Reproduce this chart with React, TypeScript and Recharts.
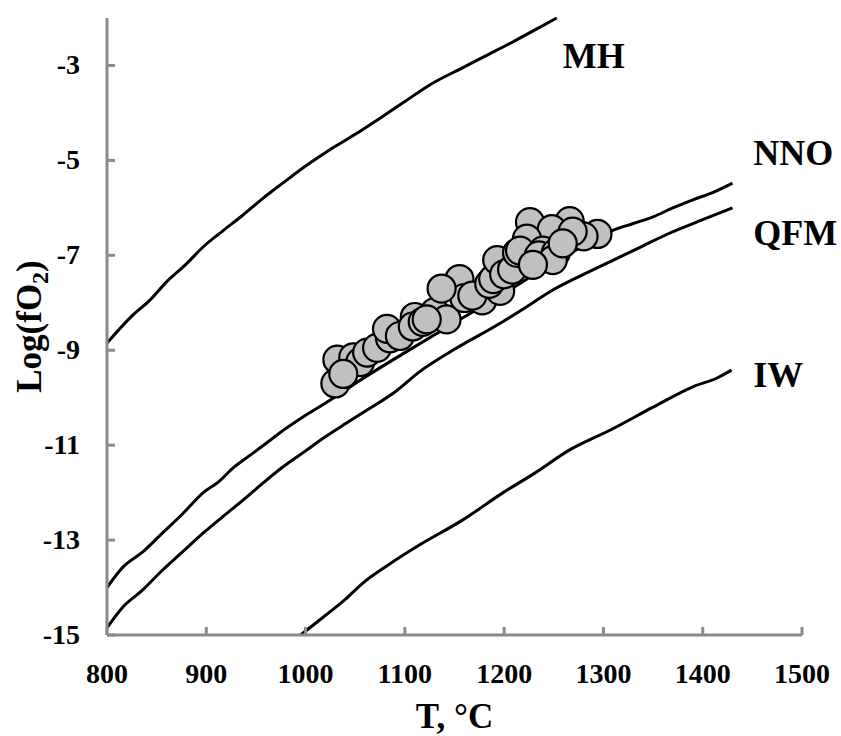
import React from 'react';
import {
  ComposedChart,
  XAxis,
  YAxis,
  Line,
  Scatter,
  ReferenceDot,
} from 'recharts';

// Oxygen buffer curves: temperature (°C) vs log fO2
const mhCurve = [
  { t: 800, v: -8.85 }, { t: 826, v: -8.26 }, { t: 843, v: -7.95 }, { t: 860, v: -7.56 },
  { t: 880, v: -7.18 }, { t: 897, v: -6.82 }, { t: 917, v: -6.48 }, { t: 937, v: -6.15 },
  { t: 957, v: -5.8 }, { t: 977, v: -5.48 }, { t: 1000, v: -5.12 }, { t: 1024, v: -4.78 },
  { t: 1050, v: -4.45 }, { t: 1075, v: -4.11 }, { t: 1100, v: -3.76 }, { t: 1125, v: -3.41 },
  { t: 1158, v: -3.05 }, { t: 1185, v: -2.76 }, { t: 1209, v: -2.5 }, { t: 1232, v: -2.24 },
  { t: 1253, v: -2.0 },
];

const nnoCurve = [
  { t: 800, v: -14.0 }, { t: 816, v: -13.57 }, { t: 836, v: -13.25 }, { t: 856, v: -12.85 },
  { t: 876, v: -12.45 }, { t: 897, v: -12.0 }, { t: 912, v: -11.78 }, { t: 927, v: -11.48 },
  { t: 945, v: -11.2 }, { t: 961, v: -10.95 }, { t: 980, v: -10.65 }, { t: 997, v: -10.41 },
  { t: 1025, v: -10.05 }, { t: 1050, v: -9.7 }, { t: 1100, v: -9.05 }, { t: 1150, v: -8.42 },
  { t: 1200, v: -7.8 }, { t: 1250, v: -7.15 }, { t: 1280, v: -6.8 }, { t: 1310, v: -6.47 },
  { t: 1330, v: -6.33 }, { t: 1350, v: -6.19 }, { t: 1370, v: -6.0 }, { t: 1390, v: -5.83 },
  { t: 1410, v: -5.68 }, { t: 1430, v: -5.48 },
];

const qfmCurve = [
  { t: 800, v: -14.85 }, { t: 816, v: -14.41 }, { t: 836, v: -14.05 }, { t: 856, v: -13.63 },
  { t: 876, v: -13.25 }, { t: 897, v: -12.85 }, { t: 917, v: -12.5 }, { t: 937, v: -12.16 },
  { t: 957, v: -11.8 }, { t: 977, v: -11.46 }, { t: 1000, v: -11.12 }, { t: 1018, v: -10.85 },
  { t: 1040, v: -10.55 }, { t: 1062, v: -10.26 }, { t: 1090, v: -9.88 }, { t: 1115, v: -9.45 },
  { t: 1150, v: -8.98 }, { t: 1193, v: -8.47 }, { t: 1220, v: -8.12 }, { t: 1249, v: -7.73 },
  { t: 1280, v: -7.4 }, { t: 1310, v: -7.1 }, { t: 1340, v: -6.8 }, { t: 1367, v: -6.53 },
  { t: 1400, v: -6.25 }, { t: 1430, v: -6.0 },
];

const iwCurve = [
  { t: 995, v: -15.0 }, { t: 1018, v: -14.62 }, { t: 1040, v: -14.25 }, { t: 1058, v: -13.9 },
  { t: 1085, v: -13.5 }, { t: 1115, v: -13.1 }, { t: 1158, v: -12.58 }, { t: 1199, v: -12.0 },
  { t: 1230, v: -11.6 }, { t: 1266, v: -11.1 }, { t: 1307, v: -10.68 }, { t: 1350, v: -10.2 },
  { t: 1390, v: -9.77 }, { t: 1415, v: -9.58 }, { t: 1429, v: -9.42 },
];

// Sample estimates
const samples = [
  { t: 1030, v: -9.7 }, { t: 1032, v: -9.2 }, { t: 1048, v: -9.15 }, { t: 1055, v: -9.25 },
  { t: 1038, v: -9.5 }, { t: 1062, v: -9.05 }, { t: 1072, v: -8.95 }, { t: 1085, v: -8.75 },
  { t: 1082, v: -8.55 }, { t: 1095, v: -8.7 }, { t: 1110, v: -8.3 }, { t: 1108, v: -8.5 },
  { t: 1118, v: -8.4 }, { t: 1130, v: -8.2 }, { t: 1142, v: -8.35 }, { t: 1122, v: -8.35 },
  { t: 1155, v: -7.5 }, { t: 1160, v: -7.9 }, { t: 1178, v: -7.95 }, { t: 1168, v: -7.85 },
  { t: 1137, v: -7.7 }, { t: 1196, v: -7.75 }, { t: 1185, v: -7.6 }, { t: 1189, v: -7.5 },
  { t: 1193, v: -7.1 }, { t: 1200, v: -7.4 }, { t: 1208, v: -7.3 }, { t: 1213, v: -6.95 },
  { t: 1226, v: -6.3 }, { t: 1266, v: -6.28 }, { t: 1294, v: -6.55 }, { t: 1248, v: -6.45 },
  { t: 1273, v: -6.55 }, { t: 1280, v: -6.6 }, { t: 1269, v: -6.5 }, { t: 1223, v: -6.65 },
  { t: 1216, v: -6.9 }, { t: 1239, v: -6.9 }, { t: 1235, v: -7.0 }, { t: 1252, v: -6.95 },
  { t: 1249, v: -7.1 }, { t: 1229, v: -7.2 }, { t: 1259, v: -6.75 },
];

const xTicks = [800, 900, 1000, 1100, 1200, 1300, 1400, 1500];
const yTicks = [-15, -13, -11, -9, -7, -5, -3];

const curveLabels = [
  { name: 'MH', t: 1259, v: -3.05 },
  { name: 'NNO', t: 1451, v: -5.1 },
  { name: 'QFM', t: 1451, v: -6.78 },
  { name: 'IW', t: 1451, v: -9.77 },
];

const FONT = '"Liberation Serif", "Times New Roman", serif';
const AXIS_GREY = '#8a8a8a';

const XTick = (props: any) => {
  const { x, y, payload } = props;
  return (
    <g>
      <line x1={x} y1={y} x2={x} y2={y - 8} stroke={AXIS_GREY} strokeWidth={3} />
      <text x={x} y={y + 48} textAnchor="middle" fontFamily={FONT} fontWeight="bold" fontSize={28} fill="#000">
        {payload.value}
      </text>
    </g>
  );
};

const YTick = (props: any) => {
  const { x, y, payload } = props;
  return (
    <g>
      <line x1={x} y1={y} x2={x + 8} y2={y} stroke={AXIS_GREY} strokeWidth={3} />
      <text x={x - 27} y={y + 9} textAnchor="end" fontFamily={FONT} fontWeight="bold" fontSize={28} fill="#000">
        {payload.value}
      </text>
    </g>
  );
};

const SampleDot = (props: any) => {
  const { cx, cy } = props;
  return <circle cx={cx} cy={cy} r={14} fill="#c0c0c0" stroke="#000" strokeWidth={2.2} />;
};

export default function App() {
  return (
    <div style={{ position: 'absolute', left: 0, top: 0, background: '#fff' }}>
      <ComposedChart
        width={841}
        height={736}
        margin={{ top: 18, right: 39, bottom: 0, left: 0 }}
      >
        <XAxis
          type="number"
          dataKey="t"
          domain={[800, 1500]}
          ticks={xTicks}
          interval={0}
          height={101}
          axisLine={{ stroke: AXIS_GREY, strokeWidth: 3 }}
          tickLine={false}
          tickSize={0}
          tickMargin={0}
          tick={<XTick />}
          label={{
            content: (p: any) => {
              const vb = p.viewBox;
              return (
                <text
                  x={vb.x + vb.width / 2}
                  y={vb.y + 93}
                  textAnchor="middle"
                  fontFamily={FONT}
                  fontWeight="bold"
                  fontSize={35}
                  fill="#000"
                >
                  T, °C
                </text>
              );
            },
          }}
        />
        <YAxis
          type="number"
          dataKey="v"
          domain={[-15, -2]}
          ticks={yTicks}
          interval={0}
          width={107}
          axisLine={{ stroke: AXIS_GREY, strokeWidth: 3 }}
          tickLine={false}
          tickSize={0}
          tickMargin={0}
          tick={<YTick />}
          label={{
            content: (p: any) => {
              const vb = p.viewBox;
              const cx = 41;
              const cy = vb.y + vb.height / 2;
              return (
                <text
                  x={cx}
                  y={cy}
                  transform={`rotate(-90, ${cx}, ${cy})`}
                  textAnchor="middle"
                  fontFamily={FONT}
                  fontWeight="bold"
                  fontSize={35}
                  fill="#000"
                >
                  Log(fO
                  <tspan fontSize={24} dy={7}>2</tspan>
                  <tspan dy={-7}>)</tspan>
                </text>
              );
            },
          }}
        />
        <Line data={mhCurve} dataKey="v" type="monotone" stroke="#000" strokeWidth={3} dot={false} isAnimationActive={false} />
        <Line data={nnoCurve} dataKey="v" type="monotone" stroke="#000" strokeWidth={3} dot={false} isAnimationActive={false} />
        <Line data={qfmCurve} dataKey="v" type="monotone" stroke="#000" strokeWidth={3} dot={false} isAnimationActive={false} />
        <Line data={iwCurve} dataKey="v" type="monotone" stroke="#000" strokeWidth={3} dot={false} isAnimationActive={false} />
        <Scatter data={samples} dataKey="v" shape={<SampleDot />} isAnimationActive={false} />
        {curveLabels.map((c) => (
          <ReferenceDot
            key={c.name}
            x={c.t}
            y={c.v}
            ifOverflow="visible"
            shape={(p: any) => (
              <text x={p.cx} y={p.cy} fontFamily={FONT} fontWeight="bold" fontSize={36} fill="#000">
                {c.name}
              </text>
            )}
          />
        ))}
      </ComposedChart>
    </div>
  );
}
